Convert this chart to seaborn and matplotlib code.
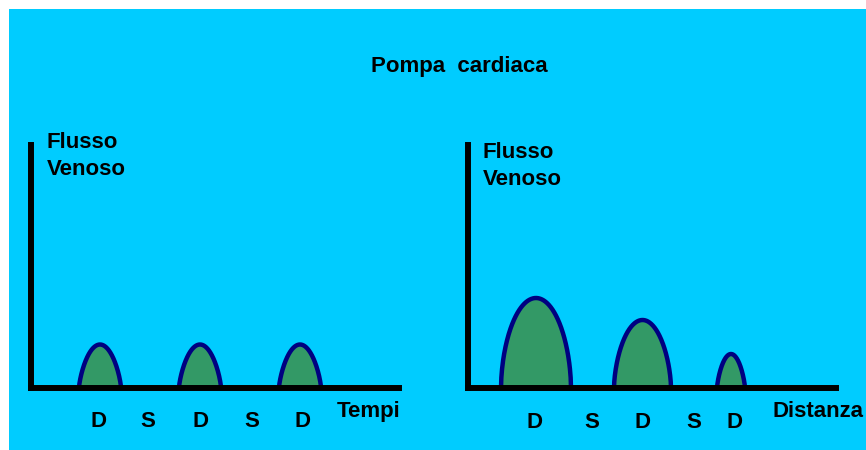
import numpy as np
import pandas as pd
import matplotlib
matplotlib.use("Agg")
import matplotlib.pyplot as plt
import seaborn as sns
from matplotlib.patches import Rectangle

# ---------------- data ----------------
title = "Pompa  cardiaca"
y_label = ["Flusso", "Venoso"]
phases = ["D", "S", "D", "S", "D"]

# left panel (Tempi)
left_xlabel = "Tempi"
left_label_pos = [99, 148, 201, 252, 303]
left_hump_pos = [100, 200, 300]
left_hump_height = [43, 43, 43]
left_hump_halfwidth = [21, 21, 21]

# right panel (Distanza)
right_xlabel = "Distanza"
right_label_pos = [534, 592, 643, 694, 734]
right_hump_pos = [536, 642.5, 731]
right_hump_height = [90, 68, 34]
right_hump_halfwidth = [35, 28.5, 14]

# ---------------- style ----------------
W, H = 866, 450
BG = "#00CCFF"
FILL = "#339966"
EDGE = "#000080"
FS = 16

sns.set_theme(style="white")
plt.rcParams["font.family"] = ["Liberation Sans", "DejaVu Sans"]
plt.rcParams["font.weight"] = "bold"

fig = plt.figure(figsize=(W / 100, H / 100), dpi=100)
fig.patch.set_facecolor("white")
fig.add_artist(Rectangle((9 / W, 0), 1 - 9 / W, 1 - 9 / H, transform=fig.transFigure,
                         facecolor=BG, edgecolor="none", zorder=0))


def fx(px):
    return px / W


def fy(py):
    return 1 - py / H


def hump_frame(pos, height, halfw, expo):
    rows = []
    for k, (c, h, w) in enumerate(zip(pos, height, halfw)):
        u = np.linspace(-1, 1, 201)
        y = h * np.clip(1 - u ** 2, 0, None) ** expo[k]
        for xi, yi in zip(c + u * w, y):
            rows.append({"hump": k, "x": xi, "y": yi})
    return pd.DataFrame(rows)


def panel(x0, x1, ytop, ybot, label_pos, pos, height, halfw, expo):
    ax = fig.add_axes([fx(x0), fy(ybot), fx(x1 - x0), (ybot - ytop) / H])
    ax.set_facecolor("none")
    df = hump_frame(pos, height, halfw, expo)
    for k, g in df.groupby("hump"):
        ax.fill_between(g["x"], 0, g["y"], color=FILL, lw=0, zorder=1)
    sns.lineplot(data=df, x="x", y="y", units="hump", estimator=None, sort=False,
                 color=EDGE, lw=3.2, ax=ax, zorder=2)
    ax.set_xlim(x0, x1)
    ax.set_ylim(0, ybot - ytop)
    for s in ["top", "right"]:
        ax.spines[s].set_visible(False)
    for s in ["left", "bottom"]:
        ax.spines[s].set_color("black")
        ax.spines[s].set_linewidth(4.3)
        ax.spines[s].set_zorder(3)
    ax.set_yticks([])
    ax.set_xticks(label_pos)
    ax.set_xticklabels(phases, fontsize=FS, fontweight="bold", color="black")
    ax.tick_params(axis="x", length=0, pad=17)
    ax.set_xlabel("")
    ax.set_ylabel("")
    return ax


panel(31, 399, 145, 387.5, left_label_pos, left_hump_pos, left_hump_height,
      left_hump_halfwidth, [0.75, 0.75, 0.75])
panel(468, 836, 145, 388, right_label_pos, right_hump_pos, right_hump_height,
      right_hump_halfwidth, [0.55, 0.6, 0.75])

txt = dict(fontsize=FS, fontweight="bold", color="black", va="baseline")
fig.text(fx(459), fy(72), title, ha="center", **txt)
fig.text(fx(47), fy(148), y_label[0], ha="left", **txt)
fig.text(fx(47), fy(175), y_label[1], ha="left", **txt)
fig.text(fx(483), fy(158), y_label[0], ha="left", **txt)
fig.text(fx(483), fy(185), y_label[1], ha="left", **txt)
fig.text(fx(337), fy(417), left_xlabel, ha="left", **txt)
fig.text(fx(772), fy(417), right_xlabel, ha="left", **txt)

fig.savefig("out.png", dpi=100, facecolor=fig.get_facecolor())
